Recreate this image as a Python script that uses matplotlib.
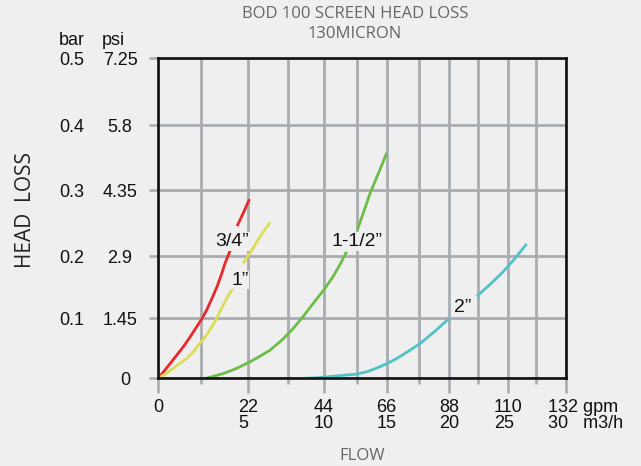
import numpy as np
import matplotlib
matplotlib.use("Agg")
import matplotlib.pyplot as plt

# ---------------- data ----------------
series_names = ['3/4”', '1”', '1-1/2”', '2”']
series_colors = ['#e8282c', '#dcdc55', '#6cbd48', '#52c2c9']

gpm_34 = [0, 1.5, 3.1, 4.8, 6.5, 8.2, 9.9, 11.2, 12.3, 13.5, 14.7, 15.7, 16.6, 17.8, None, 19.4, 20.9, 22.3]
bar_34 = [0, 0.012, 0.025, 0.039, 0.053, 0.069, 0.086, 0.099, 0.113, 0.131, 0.150, 0.169, 0.188, 0.208, None, 0.245, 0.266, 0.286]

gpm_1 = [0, 2.0, 3.9, 5.6, 7.3, 9.0, 10.7, 12.0, 13.1, 14.3, 15.4, 16.4, 17.4, 19.1, None, 20.8, 22.6, 24.3, 26.1, 28.0]
bar_1 = [0, 0.008, 0.017, 0.025, 0.033, 0.044, 0.058, 0.069, 0.081, 0.095, 0.111, 0.124, 0.137, 0.156, None, 0.188, 0.205, 0.221, 0.236, 0.251]

gpm_112 = [12.2, 14.2, 16.2, 19.1, 22.0, 25.0, 28.0, 31.3, 34.5, 37.6, 40.7, 43.9, 47.1, 49.4, 51.6, None, 55.2, 57.6, 59.9, 63.0, 66.0]
bar_112 = [0.0, 0.004, 0.008, 0.016, 0.026, 0.036, 0.047, 0.064, 0.083, 0.103, 0.124, 0.145, 0.167, 0.186, 0.206, None, 0.239, 0.267, 0.295, 0.326, 0.357]

gpm_2 = [38.1, 42.0, 46.0, 50.5, 55.0, 58.8, 62.3, 65.9, 69.4, 73.3, 77.3, 82.6, 88.0, None, 98.4, 103.0, 107.6, 112.5, 117.3]
bar_2 = [0.0, 0.001, 0.003, 0.005, 0.007, 0.011, 0.017, 0.024, 0.033, 0.045, 0.058, 0.078, 0.100, None, 0.135, 0.153, 0.172, 0.195, 0.218]

gpm_ticks = [0, 22, 44, 66, 88, 110, 132]
m3h_ticks = [0, 5, 10, 15, 20, 25, 30]
gpm_minor = [11, 33, 55, 77, 99, 121]
bar_ticks = [0, 0.1, 0.2, 0.3, 0.4, 0.5]
psi_labels = ['0', '1.45', '2.9', '4.35', '5.8', '7.25']
bar_labels = ['0', '0.1', '0.2', '0.3', '0.4', '0.5']

# label anchor (gpm, bar)
label_pos = [(18.3, 0.222), (20.0, 0.161), (55.0, 0.222), (93.0, 0.117)]

# ---------------- scale (hand drawn, non-uniform grid) ----------------
W, H = 641, 466
gx_val = np.array([-1000, 0, 11, 22, 33, 44, 55, 66, 77, 88, 99, 110, 121, 132, 1132], float)
gx_px = np.array([158.3 - 1000 * 3.9, 158.3, 201, 248.3, 288.3, 324, 356.7, 386.7, 419.3,
                  449.3, 478.3, 508.3, 536, 566, 566 + 1000 * 2.72])
gy_val = np.array([-10, 0, 0.1, 0.2, 0.3, 0.4, 0.5, 10.5])
gy_px = -np.array([378.3 + 10 * 600, 378.3, 318.3, 255.7, 190, 125, 57.7, 57.7 - 10 * 673])

def fx(v):
    return np.interp(v, gx_val, gx_px)
def ifx(p):
    return np.interp(p, gx_px, gx_val)
def fy(v):
    return np.interp(v, gy_val, gy_px)
def ify(p):
    return np.interp(p, gy_px, gy_val)

plt.rcParams['font.family'] = ['Liberation Sans', 'DejaVu Sans']
bg = '#efefef'
grid_c = '#a9adb1'
num_fs = 13

fig = plt.figure(figsize=(W / 100, H / 100), dpi=100, facecolor=bg)
L, R, T, B = 158.3, 566, 57.7, 378.3
ax = fig.add_axes([L / W, 1 - B / H, (R - L) / W, (B - T) / H])
ax.set_facecolor(bg)
ax.set_xscale('function', functions=(fx, ifx))
ax.set_yscale('function', functions=(fy, ify))
ax.set_xlim(0, 132)
ax.set_ylim(0, 0.5)

for s in ax.spines.values():
    s.set_linewidth(1.9)
    s.set_color('#111111')
    s.set_zorder(3)

ax.set_xticks(gpm_ticks)
ax.set_xticks(gpm_minor, minor=True)
ax.set_xticklabels([str(g) if i == 0 else ('' if i == len(gpm_ticks) - 1 else f'{g}\n{m}')
                    for i, (g, m) in enumerate(zip(gpm_ticks, m3h_ticks))],
                   fontsize=num_fs, linespacing=0.95, multialignment='left')
ax.xaxis.set_minor_formatter(plt.NullFormatter())
ax.set_yticks(bar_ticks)
ax.set_yticklabels([])

ax.tick_params(axis='x', which='major', length=10.8, width=1.9, color=grid_c, pad=4, labelcolor='#111111')
ax.tick_params(axis='x', which='minor', length=4.3, width=1.9, color=grid_c)
ax.tick_params(axis='y', which='major', length=6.5, width=1.9, color=grid_c)
for tk in (ax.xaxis.get_major_ticks()[0], ax.xaxis.get_major_ticks()[-1],
           ax.yaxis.get_major_ticks()[0], ax.yaxis.get_major_ticks()[-1]):
    tk.tick1line.set_color('#111111')

ax.grid(which='both', axis='x', color=grid_c, linewidth=2.0, zorder=0)
ax.grid(which='major', axis='y', color=grid_c, linewidth=2.0, zorder=0)
ax.set_axisbelow(True)

def arr(v):
    return np.array([np.nan if a is None else a for a in v], float)

for xs, ys, c in zip([gpm_34, gpm_1, gpm_112, gpm_2], [bar_34, bar_1, bar_112, bar_2], series_colors):
    ax.plot(arr(xs), arr(ys), color=c, linewidth=2.0, solid_capstyle='butt',
            solid_joinstyle='round', zorder=2)

for name, (lx, ly) in zip(series_names, label_pos):
    ax.text(lx, ly, name, fontsize=14, ha='center', va='center', color='#111111', zorder=4,
            bbox=dict(facecolor=bg, edgecolor='none', pad=0.5))

# y labels: bar and psi columns
for v, bl, pl in zip(bar_ticks, bar_labels, psi_labels):
    if v == 0:
        ax.annotate('0', xy=(125.7 / W, v), xycoords=(fig.transFigure, ax.transData),
                    xytext=(0, -5), textcoords='offset points', ha='center', va='baseline',
                    fontsize=num_fs, color='#111111', annotation_clip=False)
        continue
    ax.annotate(bl, xy=(59 / W, v), xycoords=(fig.transFigure, ax.transData),
                xytext=(0, -5), textcoords='offset points', ha='left', va='baseline',
                fontsize=num_fs, color='#111111', annotation_clip=False)
    ax.annotate(pl, xy=(120 / W, v), xycoords=(fig.transFigure, ax.transData),
                xytext=(0, -5), textcoords='offset points', ha='center', va='baseline',
                fontsize=num_fs, color='#111111', annotation_clip=False)

fig.text(59 / W, 1 - 45 / H, 'bar', fontsize=num_fs, ha='left', va='baseline', color='#111111')
fig.text(102 / W, 1 - 45 / H, 'psi', fontsize=num_fs, ha='left', va='baseline', color='#111111')

fig.text(548 / W, 1 - 399 / H, '132 gpm\n30   m3/h', fontsize=num_fs, ha='left', va='top',
         linespacing=0.95, color='#111111')

fig.text(355 / W, 1 - 18.3 / H, 'BOD 100 SCREEN HEAD LOSS', fontsize=12, family='Open Sans',
         ha='center', va='baseline', color='#666666')
fig.text(355 / W, 1 - 37.7 / H, '130MICRON', fontsize=12, family='Open Sans',
         ha='center', va='baseline', color='#666666')
fig.text(362.5 / W, 1 - 460 / H, 'FLOW', fontsize=12, family='Open Sans',
         ha='center', va='baseline', color='#666666')
fig.text(25.7 / W, 1 - 210 / H, 'HEAD  LOSS', fontsize=15, family='Open Sans', rotation=90,
         ha='center', va='center', color='#222222')

fig.savefig('out.png', dpi=100, facecolor=bg)
